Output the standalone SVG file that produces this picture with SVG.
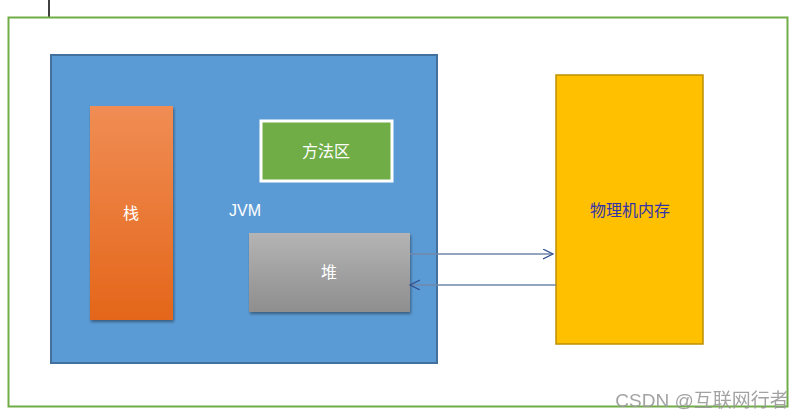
<svg xmlns="http://www.w3.org/2000/svg" width="803" height="419" viewBox="0 0 803 419">
<defs>
<linearGradient id="og" x1="0" y1="0" x2="0" y2="1"><stop offset="0" stop-color="#F08D54"/><stop offset="1" stop-color="#E4661A"/></linearGradient>
<linearGradient id="gg" x1="0" y1="0" x2="0" y2="1"><stop offset="0" stop-color="#B4B4B4"/><stop offset="1" stop-color="#8E8E8E"/></linearGradient>
<marker id="ah" markerWidth="12" markerHeight="12" refX="10" refY="5" orient="auto" markerUnits="userSpaceOnUse"><path d="M0,0 L10,5 L0,10" fill="none" stroke="#2F4F8F" stroke-width="1.2"/></marker>
<filter id="sh"><feDropShadow dx="1" dy="2" stdDeviation="1.5" flood-opacity="0.4"/></filter>
</defs>
<style>text{font-family:"Liberation Sans","Noto Sans CJK SC",sans-serif;font-size:16px;text-anchor:middle;dominant-baseline:central}</style>
<line x1="49" y1="0" x2="49" y2="17" stroke="#000" stroke-width="1.5"/>
<rect id="outer" x="8.5" y="17.5" width="779" height="389" fill="#fff" stroke="#70AD47" stroke-width="2"/>
<g id="jvm"><rect x="51" y="55" width="386" height="308" fill="#5B9BD5" stroke="#41719C" stroke-width="2"/><text x="245" y="210" fill="#fff">JVM</text></g>
<g id="stack"><rect x="90" y="106" width="83" height="214" fill="url(#og)" filter="url(#sh)"/><text x="131" y="213" fill="#fff">栈</text></g>
<g id="method"><rect x="261" y="121" width="131" height="60" fill="#70AD47" stroke="#fff" stroke-width="3"/><text x="326" y="151" fill="#fff">方法区</text></g>
<g id="heap"><rect x="249" y="233" width="161" height="79" fill="url(#gg)" filter="url(#sh)"/><text x="329" y="272" fill="#fff">堆</text></g>
<g id="phys"><rect x="556" y="75" width="147" height="269" fill="#FFC000" stroke="#BF9000" stroke-width="1.5"/><text x="630" y="210" fill="#3333AA">物理机内存</text></g>
<g id="connectors" stroke="#7088AA" stroke-width="1.5" fill="none">
<line x1="410" y1="254" x2="553" y2="254" marker-end="url(#ah)"/>
<line x1="556" y1="285" x2="410" y2="285" marker-end="url(#ah)"/>
</g>
<text x="702" y="400" fill="#999" style="font-size:19px;opacity:0.9">CSDN @互联网行者</text>
</svg>
